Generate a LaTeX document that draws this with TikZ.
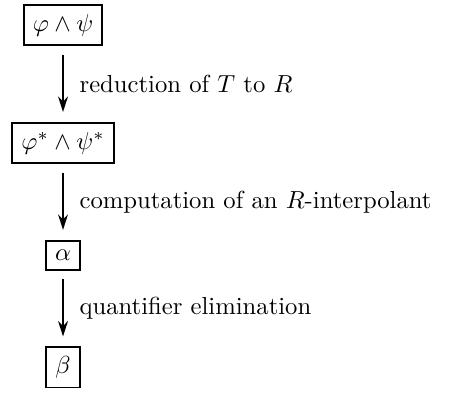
\documentclass[tikz,border=0pt]{standalone}
\usepackage{amsmath}
\usetikzlibrary{arrows.meta,positioning}

\begin{document}
\begin{tikzpicture}[
  formula/.style={draw,thick,inner sep=3.7pt},
  arrow/.style={-{Stealth[length=2.2mm,width=1.4mm]},thick,shorten <=3.5pt,shorten >=4pt}
]
  \node[formula] (phipsi) {$\varphi\wedge\psi$};
  \node[formula,below=1.08cm of phipsi] (phipsistar) {$\varphi^*\wedge\psi^*$};
  \node[formula,below=1.08cm of phipsistar] (alpha) {$\alpha$};
  \node[formula,below=1.08cm of alpha] (beta) {$\beta$};
  \draw[arrow] (phipsi) -- node[right=3pt] {reduction of $T$ to $R$} (phipsistar);
  \draw[arrow] (phipsistar) -- node[right=3pt] {computation of an $R$-interpolant} (alpha);
  \draw[arrow] (alpha) -- node[right=3pt] {quantifier elimination} (beta);
  % margins as in the drawing
  \useasboundingbox ([xshift=-4.6pt,yshift=1.6pt]phipsistar.west |- phipsi.north) rectangle ([xshift=160.6pt,yshift=-3.2pt]beta.south);
\end{tikzpicture}
\end{document}
